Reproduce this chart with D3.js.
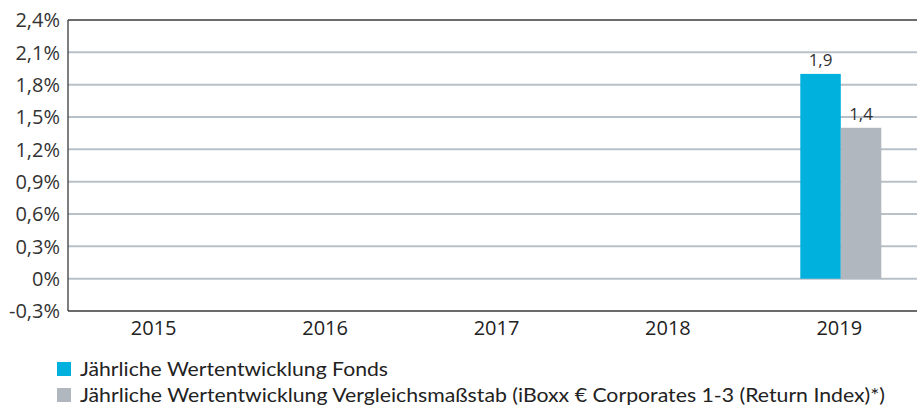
<!DOCTYPE html>
<html><head><meta charset="utf-8">
<script src="https://cdn.jsdelivr.net/npm/d3@7"></script>
<style>body{margin:0;background:#fff;} svg{display:block;}</style>
</head><body>
<svg id="c" width="917" height="405"></svg>
<script>
const categories = ["2015","2016","2017","2018","2019"];
const seriesNames = ["Jährliche Wertentwicklung Fonds","Jährliche Wertentwicklung Vergleichsmaßstab (iBoxx € Corporates 1-3 (Return Index)*)"];
const fondsValues = [null,null,null,null,1.9];
const benchValues = [null,null,null,null,1.4];
const yTicks = [-0.3,0,0.3,0.6,0.9,1.2,1.5,1.8,2.1,2.4];
const yTickLabels = ["-0,3%","0%","0,3%","0,6%","0,9%","1,2%","1,5%","1,8%","2,1%","2,4%"];
const colors = ["#00b1dd","#b1b7be"];

const svg = d3.select("#c");
const L = 68, R = 925, T = 20, B = 311;
const y = d3.scaleLinear().domain([-0.3,2.4]).range([B,T]);
const x0 = d3.scaleBand().domain(categories).range([L,R]).padding(0);
const barW = 40.5;
const x1 = d3.scaleBand().domain([0,1]).range([0,2*barW]);

// grid lines
svg.append("g").selectAll("line").data(yTicks.filter(v=>v>-0.3 && v<2.4)).join("line")
  .attr("x1",L).attr("x2",917).attr("y1",d=>y(d)).attr("y2",d=>y(d))
  .attr("stroke","#b8c0c8").attr("stroke-width",2);

// frame lines
svg.append("line").attr("x1",L).attr("x2",917).attr("y1",y(2.4)).attr("y2",y(2.4)).attr("stroke","#3a3a3a").attr("stroke-width",1.3);
svg.append("line").attr("x1",L).attr("x2",917).attr("y1",y(-0.3)).attr("y2",y(-0.3)).attr("stroke","#3a3a3a").attr("stroke-width",1.3);
svg.append("line").attr("x1",L).attr("x2",L).attr("y1",y(2.4)).attr("y2",y(-0.3)).attr("stroke","#3a3a3a").attr("stroke-width",1.3);

// y tick labels
svg.append("g").selectAll("text").data(yTicks).join("text")
  .attr("x",60).attr("y",d=>y(d)).attr("dy","0.36em")
  .attr("text-anchor","end")
  .style("font-family","'Open Sans', sans-serif").style("font-size","20px").style("fill","#333")
  .text((d,i)=>yTickLabels[i]);

// category labels
svg.append("g").selectAll("text").data(categories).join("text")
  .attr("x",d=>x0(d)+x0.bandwidth()/2).attr("y",335)
  .attr("text-anchor","middle")
  .style("font-family","'Open Sans', sans-serif").style("font-size","20px").style("fill","#222")
  .text(d=>d);

// bars
const series = [fondsValues, benchValues];
series.forEach((vals,si)=>{
  const data = categories.map((c,i)=>({c, v: vals[i]})).filter(d=>d.v!=null);
  const g = svg.append("g");
  g.selectAll("rect").data(data).join("rect")
    .attr("x",d=>x0(d.c)+x0.bandwidth()/2 - barW + 1.5 + x1(si))
    .attr("width",x1.bandwidth())
    .attr("y",d=>y(Math.max(0,d.v)))
    .attr("height",d=>Math.abs(y(d.v)-y(0)))
    .attr("fill",colors[si]);
  g.selectAll("text").data(data).join("text")
    .attr("x",d=>x0(d.c)+x0.bandwidth()/2 - barW + 1.5 + x1(si) + x1.bandwidth()/2)
    .attr("y",d=>y(d.v)-8)
    .attr("text-anchor","middle")
    .style("font-family","'Open Sans', sans-serif").style("font-size","17px").style("fill","#333")
    .text(d=>String(d.v).replace(".",","));
});

// legend
const lg = svg.append("g");
const legendW = [308, 805];
seriesNames.forEach((n,i)=>{
  const yy = 362 + i*26;
  lg.append("rect").attr("x",57).attr("y",yy).attr("width",14).attr("height",14).attr("fill",colors[i]);
  lg.append("text").attr("x",80).attr("y",yy+14)
    .style("font-family","Lato, sans-serif").style("font-size","20px").style("fill","#222")
    .attr("textLength",legendW[i]).attr("lengthAdjust","spacingAndGlyphs")
    .text(n);
});
</script>
</body></html>
